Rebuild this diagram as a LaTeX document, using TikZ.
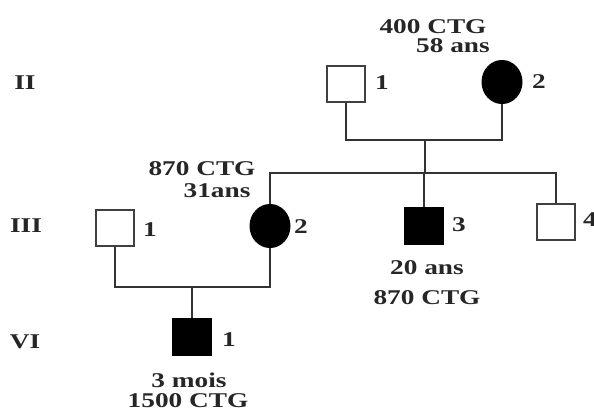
\documentclass[tikz,border=0pt]{standalone}
\usepackage{fontspec}
\setmainfont{Liberation Serif}
\usetikzlibrary{shapes.geometric}
\newcommand{\W}[1]{\scalebox{1.3}[1]{#1}}
\begin{document}
\begin{tikzpicture}[x=1pt,y=-1pt,
  male/.style={rectangle,draw=black!75,line width=1.6pt,minimum width=38pt,minimum height=36pt,inner sep=0pt,fill=white},
  affm/.style={male,fill=black,draw=black},
  afff/.style={ellipse,draw=black,fill=black,line width=1pt,minimum width=40pt,minimum height=43pt,inner sep=0pt},
  txt/.style={font=\bfseries\fontsize{21}{21}\selectfont,inner sep=0pt,text=black!85},
  gen/.style={txt},
  line/.style={line width=1.6pt,black!80},
  mline/.style={line width=2.2pt,black!80}]
\useasboundingbox (0,0) rectangle (594,418);
% generation II
\node[male] (a1) at (346,84) {};
\node[afff] (a2) at (502,82) {};
\node[txt] (a1n) at (382,83) {\W{1}};
\node[txt] (a2n) at (539,82) {\W{2}};
\node[txt] (a2t1) at (433,27) {\W{400 CTG}};
\node[txt] (a2t2) at (453,46) {\W{58 ans}};
% generation III
\node[male] (b1) at (115,228) {};
\node[txt] (b1n) at (150,230) {\W{1}};
\node[afff] (b2) at (270,226) {};
\node[txt] (b2n) at (301,227) {\W{2}};
\node[txt] (b2t1) at (202,169) {\W{870 CTG}};
\node[txt] (b2t2) at (217,191) {\W{31ans}};
\node[affm] (b3) at (424,226) {};
\node[txt] (b3n) at (459,225) {\W{3}};
\node[txt] (b3t1) at (427,268) {\W{20 ans}};
\node[txt] (b3t2) at (427,298) {\W{870 CTG}};
\node[male] (b4) at (556,222) {};
\node[txt,anchor=west] (b4n) at (583,220) {\W{4}};
% generation VI
\node[affm] (c1) at (192,337) {};
\node[txt] (c1n) at (229,340) {\W{1}};
\node[txt] (c1t1) at (189,380) {\W{3 mois}};
\node[txt] (c1t2) at (188,401) {\W{1500 CTG}};
% generation labels
\node[gen] (g2) at (25,83) {\W{II}};
\node[gen] (g3) at (26,226) {\W{III}};
\node[gen] (g4) at (25,342) {\W{VI}};
% marriage II
\coordinate (m1) at (425,140);
\draw[mline] (a1.south) -- (a1.south |- m1) -- (a2.south |- m1) -- (a2.south);
\coordinate (s1) at (425,173);
\draw[line] (m1) -- (s1);
\draw[line] (b2.north) -- (b2.north |- s1) -- (b4.north |- s1) -- (b4.north);
\draw[line] (b3.north) -- (b3.north |- s1);
% marriage III
\coordinate (m2) at (192,287);
\draw[mline] (b1.south) -- (b1.south |- m2) -- (b2.south |- m2) -- (b2.south);
\draw[line] (m2) -- (c1.north);
\end{tikzpicture}
\end{document}
